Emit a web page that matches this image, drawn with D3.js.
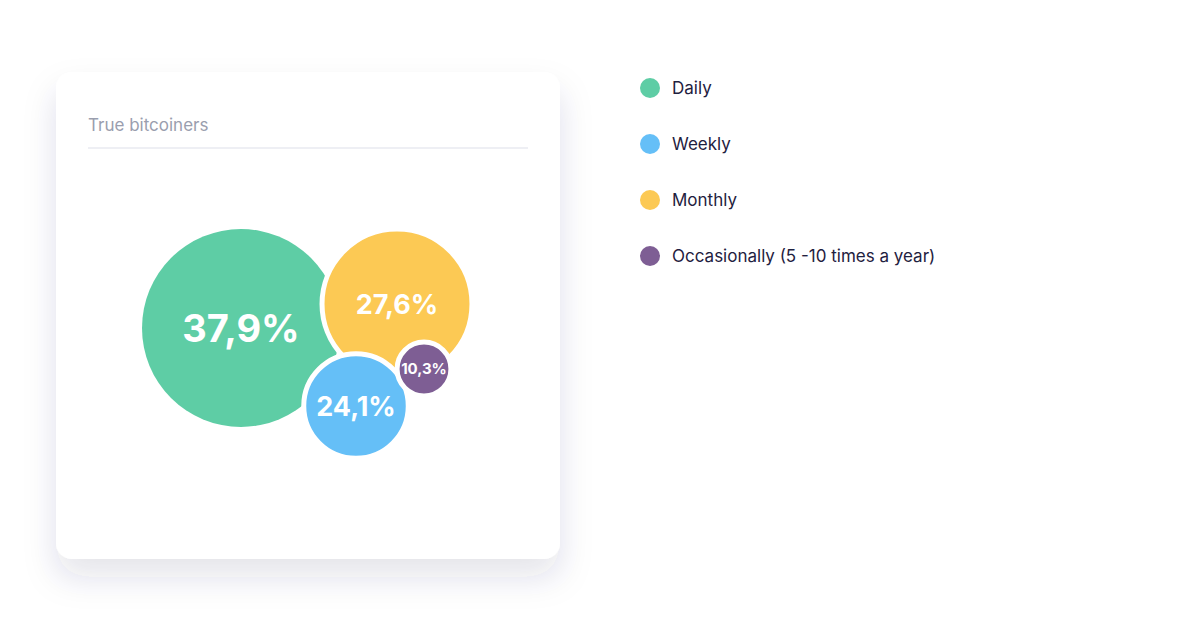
<!DOCTYPE html>
<html><head><meta charset="utf-8">
<script src="https://cdn.jsdelivr.net/npm/d3@7"></script>
<style>
body{margin:0;background:#fff;font-family:Inter,"Noto Sans",sans-serif;}
</style></head>
<body>
<svg id="chart" width="1200" height="630"></svg>
<script>
const categories = ["Daily", "Weekly", "Monthly", "Occasionally (5 -10 times a year)"];
const values = [37.9, 24.1, 27.6, 10.3];
const labels = ["37,9%", "24,1%", "27,6%", "10,3%"];
const colors = ["#5ecda5", "#65bff7", "#fcc954", "#7e5e94"];
// bubble centres (layout, px)
const centres = [[241, 328], [356, 406], [397, 304], [424, 369]];
const drawOrder = [0, 2, 1, 3];

const svg = d3.select("#chart");
const defs = svg.append("defs");
const f = defs.append("filter").attr("id", "sh").attr("x", "-30%").attr("y", "-30%").attr("width", "160%").attr("height", "170%");
f.append("feDropShadow").attr("dx", 0).attr("dy", 18).attr("stdDeviation", 16)
  .attr("flood-color", "#23305e").attr("flood-opacity", 0.13);

// card
svg.append("rect").attr("x", 56).attr("y", 72).attr("width", 504).attr("height", 487)
  .attr("rx", 16).attr("fill", "#fff").attr("filter", "url(#sh)");
svg.append("text").attr("x", 88).attr("y", 131).attr("font-size", 17)
  .attr("fill", "#9a9eae").text("True bitcoiners");
svg.append("line").attr("x1", 88).attr("x2", 528).attr("y1", 148).attr("y2", 148)
  .attr("stroke", "#e8eaf0").attr("stroke-width", 1.5);

const r = d3.scaleLinear().domain([0, d3.max(values)]).range([0, 99]);
const radius = d => Math.max(26, r(d) * (d > 20 && d < 26 ? 0.83 : 1) * (d > 26 && d < 30 ? 1.04 : 1));

const g = svg.append("g");
drawOrder.forEach(i => {
  const [cx, cy] = centres[i];
  g.append("circle").attr("cx", cx).attr("cy", cy).attr("r", radius(values[i]))
    .attr("fill", colors[i]).attr("stroke", "#fff").attr("stroke-width", i === 0 ? 0 : 5);
});
const fs = [38, 27, 27, 15];
drawOrder.forEach(i => {
  const [cx, cy] = centres[i];
  g.append("text").attr("x", cx).attr("y", cy).attr("dy", "0.36em")
    .attr("text-anchor", "middle").attr("font-weight", 700).attr("font-size", fs[i])
    .attr("fill", "#fff").text(labels[i]);
});

// legend
const legendOrder = [0, 1, 2, 3];
const lg = svg.append("g").selectAll("g").data(legendOrder).join("g")
  .attr("transform", (d, k) => `translate(650,${88 + k * 56})`);
lg.append("circle").attr("r", 10).attr("fill", d => colors[d]);
lg.append("text").attr("x", 22).attr("dy", "0.36em").attr("font-size", 17)
  .attr("fill", "#1f2140").text(d => categories[d]);
</script>
</body></html>
